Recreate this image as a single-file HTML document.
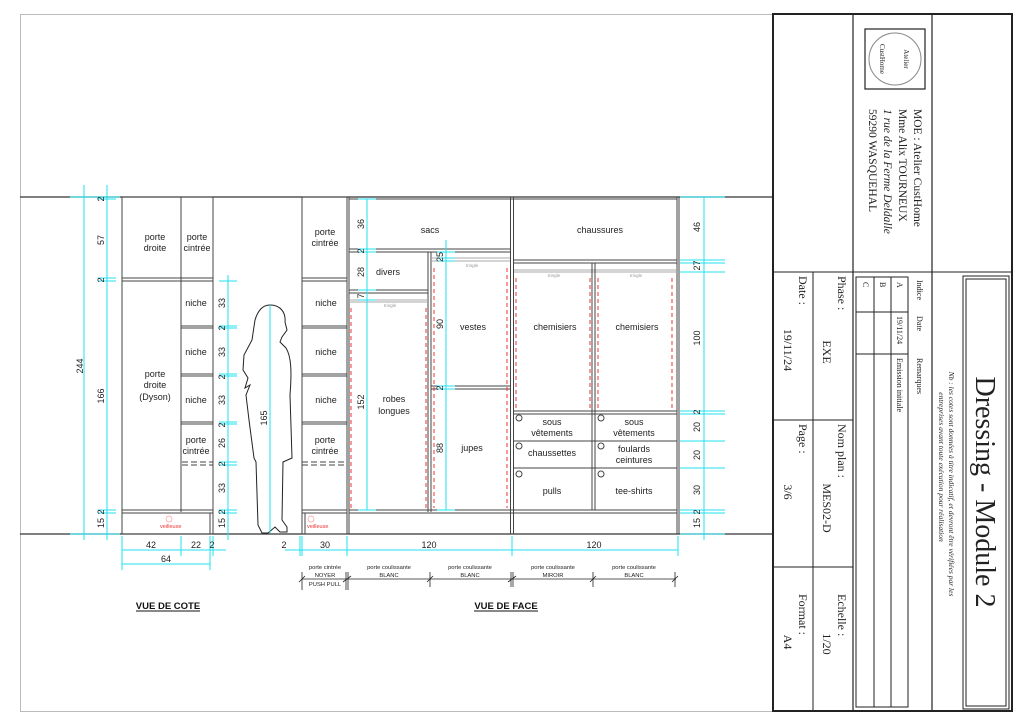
<!DOCTYPE html>
<html><head><meta charset="utf-8"><style>
html,body{margin:0;padding:0;background:#fff}
svg{display:block}
text{font-family:"Liberation Sans",sans-serif}
.s text{font-family:"Liberation Serif",serif}
</style></head><body>
<svg width="1024" height="724" viewBox="0 0 1024 724" xmlns="http://www.w3.org/2000/svg">
<rect x="20.5" y="14.5" width="992" height="697" fill="none" stroke="#bbb" stroke-width="1"/>
<line x1="20" y1="197" x2="773" y2="197" stroke="#333" stroke-width="1.2"/>
<line x1="20" y1="534" x2="773" y2="534" stroke="#333" stroke-width="1.2"/>

<g stroke="#444" stroke-width="1" fill="none">
<rect x="122" y="197" width="91" height="337"/>
<line x1="181" y1="197" x2="181" y2="512"/>
<line x1="122" y1="278" x2="213" y2="278"/><line x1="122" y1="281" x2="213" y2="281"/>
<line x1="181" y1="326" x2="213" y2="326"/><line x1="181" y1="328" x2="213" y2="328"/>
<line x1="181" y1="374" x2="213" y2="374"/><line x1="181" y1="376" x2="213" y2="376"/>
<line x1="181" y1="422" x2="213" y2="422"/><line x1="181" y1="424" x2="213" y2="424"/>
<line x1="182" y1="462" x2="213" y2="462" stroke-dasharray="6,3"/><line x1="182" y1="465" x2="213" y2="465" stroke-dasharray="6,3"/>
<line x1="122" y1="510" x2="213" y2="510"/><line x1="122" y1="513" x2="213" y2="513"/>
<line x1="210" y1="513" x2="210" y2="534"/>

<rect x="302" y="197" width="45" height="337"/>
<line x1="302" y1="278" x2="347" y2="278"/><line x1="302" y1="281" x2="347" y2="281"/>
<line x1="302" y1="326" x2="347" y2="326"/><line x1="302" y1="328" x2="347" y2="328"/>
<line x1="302" y1="374" x2="347" y2="374"/><line x1="302" y1="376" x2="347" y2="376"/>
<line x1="302" y1="422" x2="347" y2="422"/><line x1="302" y1="424" x2="347" y2="424"/>
<line x1="302" y1="462" x2="346" y2="462" stroke-dasharray="6,3"/><line x1="302" y1="465" x2="346" y2="465" stroke-dasharray="6,3"/>
<line x1="302" y1="510" x2="347" y2="510"/><line x1="302" y1="513" x2="347" y2="513"/>
<line x1="305" y1="513" x2="305" y2="534"/>
<line x1="349" y1="197" x2="349" y2="534"/>
<line x1="510.5" y1="197" x2="510.5" y2="534"/><line x1="513.5" y1="197" x2="513.5" y2="534"/>
<line x1="349" y1="199" x2="677" y2="199"/>
<line x1="349" y1="249" x2="510" y2="249"/><line x1="349" y1="252" x2="510" y2="252"/>
<line x1="428" y1="252" x2="428" y2="512"/><line x1="431" y1="252" x2="431" y2="512"/>
<line x1="349" y1="290" x2="428" y2="290"/><line x1="349" y1="293" x2="428" y2="293"/>
<line x1="349" y1="300" x2="428" y2="300" stroke="#aaa"/><line x1="349" y1="302" x2="428" y2="302" stroke="#aaa"/>
<line x1="431" y1="258" x2="510" y2="258" stroke="#aaa"/><line x1="431" y1="261" x2="510" y2="261" stroke="#aaa"/>
<line x1="431" y1="386" x2="510" y2="386"/><line x1="431" y1="389" x2="510" y2="389"/>
<line x1="349" y1="510" x2="677" y2="510"/><line x1="349" y1="513" x2="677" y2="513"/>
<line x1="677" y1="197" x2="677" y2="534"/><line x1="679" y1="197" x2="679" y2="534"/>
<line x1="514" y1="260" x2="677" y2="260"/><line x1="514" y1="263" x2="677" y2="263"/>
<line x1="514" y1="270" x2="677" y2="270" stroke="#aaa"/><line x1="514" y1="272" x2="677" y2="272" stroke="#aaa"/>
<line x1="592" y1="263" x2="592" y2="510"/><line x1="595" y1="263" x2="595" y2="510"/>
<line x1="514" y1="411" x2="677" y2="411"/><line x1="514" y1="414" x2="677" y2="414"/>
<line x1="514" y1="441" x2="677" y2="441"/>
<line x1="514" y1="468" x2="677" y2="468"/>
<circle cx="519" cy="418" r="3"/><circle cx="601" cy="418" r="3"/>
<circle cx="519" cy="446" r="3"/><circle cx="601" cy="446" r="3"/>
<circle cx="519" cy="474" r="3"/><circle cx="601" cy="474" r="3"/>
</g>
<g stroke="#e33" stroke-width="1" stroke-dasharray="4,3">
<line x1="351" y1="308" x2="351" y2="508"/><line x1="426" y1="308" x2="426" y2="508"/>
<line x1="434" y1="268" x2="434" y2="508"/><line x1="507" y1="268" x2="507" y2="508"/>
<line x1="516" y1="278" x2="516" y2="409"/><line x1="590" y1="278" x2="590" y2="409"/>
<line x1="598" y1="278" x2="598" y2="409"/><line x1="672" y1="278" x2="672" y2="409"/>
</g>
<g fill="#999" font-size="4.5" text-anchor="middle">
<text x="390" y="307">tringle</text><text x="472" y="267">tringle</text>
<text x="554" y="277">tringle</text><text x="636" y="277">tringle</text>
</g>
<g fill="#e33" font-size="5.5"><text x="160" y="528">veilleuse</text><text x="307" y="528">veilleuse</text></g>
<g stroke="#f99" fill="none" stroke-width="0.7"><circle cx="169" cy="519" r="3"/><circle cx="311" cy="519" r="3"/></g>

<path d="M270,305 C280,305 286,312 285,322 L287,330 L282,337 L280,342 L286,348 C291,356 292,370 290,395 L292,458 L283,462 L282,520 L287,527 L287,532 L280,532 L275,527 L268,533 L262,533 L258,525 L256,462 L254,458 L249,420 L246,395 L250,385 L245,388 L248,378 L243,370 L244,355 L252,340 L255,320 C258,310 263,305 270,305 Z" fill="none" stroke="#222" stroke-width="1"/>

<g font-size="9" fill="#222" text-anchor="middle">
<text x="155" y="240">porte</text><text x="155" y="251">droite</text>
<text x="197" y="240">porte</text><text x="197" y="251">cintrée</text>
<text x="155" y="377">porte</text><text x="155" y="388">droite</text><text x="155" y="400">(Dyson)</text>
<text x="196" y="306">niche</text><text x="196" y="355">niche</text><text x="196" y="403">niche</text>
<text x="196" y="443">porte</text><text x="196" y="454">cintrée</text>
<text x="325" y="235">porte</text><text x="325" y="246">cintrée</text>
<text x="326" y="306">niche</text><text x="326" y="355">niche</text><text x="326" y="403">niche</text>
<text x="325" y="443">porte</text><text x="325" y="454">cintrée</text>
<text x="430" y="233">sacs</text>
<text x="388" y="275">divers</text>
<text x="394" y="402">robes</text><text x="394" y="414">longues</text>
<text x="473" y="330">vestes</text>
<text x="472" y="451">jupes</text>
<text x="600" y="233">chaussures</text>
<text x="555" y="330">chemisiers</text><text x="637" y="330">chemisiers</text>
<text x="552" y="425">sous</text><text x="552" y="436">vêtements</text>
<text x="634" y="425">sous</text><text x="634" y="436">vêtements</text>
<text x="552" y="456">chaussettes</text>
<text x="634" y="452">foulards</text><text x="634" y="463">ceintures</text>
<text x="552" y="494">pulls</text><text x="634" y="494">tee-shirts</text>
</g>

<g stroke="#1fe0f0" stroke-width="1" fill="none">
<line x1="84" y1="185" x2="84" y2="540"/><line x1="70" y1="197" x2="120" y2="197"/><line x1="70" y1="534" x2="120" y2="534"/>
<line x1="107" y1="185" x2="107" y2="540"/>
<line x1="98" y1="199" x2="116" y2="199"/><line x1="98" y1="278" x2="116" y2="278"/><line x1="98" y1="281" x2="116" y2="281"/>
<line x1="98" y1="510" x2="116" y2="510"/><line x1="98" y1="513" x2="116" y2="513"/>
<line x1="228" y1="275" x2="228" y2="540"/>
<line x1="219" y1="281" x2="237" y2="281"/><line x1="219" y1="326" x2="237" y2="326"/><line x1="219" y1="328" x2="237" y2="328"/>
<line x1="219" y1="374" x2="237" y2="374"/><line x1="219" y1="376" x2="237" y2="376"/><line x1="219" y1="422" x2="237" y2="422"/>
<line x1="219" y1="424" x2="237" y2="424"/><line x1="219" y1="462" x2="237" y2="462"/><line x1="219" y1="465" x2="237" y2="465"/>
<line x1="219" y1="510" x2="237" y2="510"/><line x1="219" y1="513" x2="237" y2="513"/>
<line x1="270" y1="305" x2="270" y2="533"/>
<line x1="367" y1="199" x2="367" y2="510"/>
<line x1="358" y1="199" x2="376" y2="199"/><line x1="358" y1="249" x2="376" y2="249"/><line x1="358" y1="252" x2="376" y2="252"/>
<line x1="358" y1="290" x2="376" y2="290"/><line x1="358" y1="300" x2="376" y2="300"/><line x1="358" y1="510" x2="376" y2="510"/>
<line x1="446" y1="240" x2="446" y2="510"/>
<line x1="437" y1="252" x2="455" y2="252"/><line x1="437" y1="258" x2="455" y2="258"/><line x1="437" y1="261" x2="455" y2="261"/>
<line x1="437" y1="386" x2="455" y2="386"/><line x1="437" y1="389" x2="455" y2="389"/><line x1="437" y1="510" x2="455" y2="510"/>
<line x1="704" y1="197" x2="704" y2="540"/>
<g><line x1="680" y1="197" x2="725" y2="197"/><line x1="680" y1="260" x2="725" y2="260"/><line x1="680" y1="263" x2="725" y2="263"/>
<line x1="680" y1="272" x2="725" y2="272"/><line x1="680" y1="411" x2="725" y2="411"/><line x1="680" y1="414" x2="725" y2="414"/>
<line x1="680" y1="441" x2="725" y2="441"/><line x1="680" y1="468" x2="725" y2="468"/><line x1="680" y1="510" x2="725" y2="510"/>
<line x1="680" y1="513" x2="725" y2="513"/><line x1="680" y1="534" x2="725" y2="534"/></g>
<line x1="122" y1="550" x2="226" y2="550"/><line x1="122" y1="564" x2="210" y2="564"/>
<line x1="122" y1="536" x2="122" y2="570"/><line x1="181" y1="536" x2="181" y2="556"/><line x1="210" y1="536" x2="210" y2="570"/><line x1="213" y1="536" x2="213" y2="556"/>
<line x1="285" y1="550" x2="678" y2="550"/>
<line x1="300" y1="536" x2="300" y2="556"/><line x1="302" y1="536" x2="302" y2="556"/><line x1="347" y1="536" x2="347" y2="556"/>
<line x1="512" y1="536" x2="512" y2="556"/><line x1="678" y1="536" x2="678" y2="556"/>
</g>
<g font-size="9" fill="#222" text-anchor="middle">
<g transform="rotate(-90)">
<text x="-366" y="83">244</text>
<text x="-199" y="104">2</text><text x="-240" y="104">57</text><text x="-280" y="104">2</text><text x="-396" y="104">166</text><text x="-512" y="104">2</text><text x="-523" y="104">15</text>
<text x="-303" y="225">33</text><text x="-328" y="225">2</text><text x="-352" y="225">33</text><text x="-377" y="225">2</text><text x="-400" y="225">33</text><text x="-425" y="225">2</text><text x="-443" y="225">26</text><text x="-464" y="225">2</text><text x="-488" y="225">33</text><text x="-512" y="225">2</text><text x="-523" y="225">15</text>
<text x="-418" y="267">165</text>
<text x="-224" y="364">36</text><text x="-251" y="364">2</text><text x="-272" y="364">28</text><text x="-296" y="364">7</text><text x="-402" y="364">152</text>
<text x="-257" y="443">25</text><text x="-324" y="443">90</text><text x="-388" y="443">2</text><text x="-448" y="443">88</text>
<text x="-227" y="700">46</text><text x="-263" y="700">7</text><text x="-268" y="700">2</text><text x="-338" y="700">100</text><text x="-412" y="700">2</text><text x="-427" y="700">20</text><text x="-455" y="700">20</text><text x="-490" y="700">30</text><text x="-512" y="700">2</text><text x="-523" y="700">15</text>
</g>
<text x="151" y="548">42</text><text x="196" y="548">22</text><text x="212" y="548">2</text><text x="166" y="562">64</text>
<text x="284" y="548">2</text><text x="325" y="548">30</text><text x="429" y="548">120</text><text x="594" y="548">120</text>
</g>
<g font-size="5.8" fill="#222" text-anchor="middle">
<text x="325" y="569">porte cintrée</text><text x="325" y="577">NOYER</text><text x="325" y="586">PUSH PULL</text>
<text x="389" y="569">porte coulissante</text><text x="389" y="577">BLANC</text>
<text x="470" y="569">porte coulissante</text><text x="470" y="577">BLANC</text>
<text x="553" y="569">porte coulissante</text><text x="553" y="577">MIROIR</text>
<text x="634" y="569">porte coulissante</text><text x="634" y="577">BLANC</text>
</g>
<g stroke="#222" stroke-width="0.8">
<line x1="302" y1="579" x2="676" y2="579"/>
<line x1="302" y1="572" x2="302" y2="590"/><line x1="346" y1="572" x2="346" y2="590"/><line x1="348" y1="572" x2="348" y2="590"/>
<line x1="430" y1="572" x2="430" y2="587"/><line x1="511" y1="572" x2="511" y2="587"/><line x1="513" y1="572" x2="513" y2="587"/>
<line x1="593" y1="572" x2="593" y2="587"/><line x1="675" y1="572" x2="675" y2="587"/>
<line x1="299" y1="582" x2="305" y2="576"/><line x1="343" y1="582" x2="351" y2="576"/><line x1="427" y1="582" x2="433" y2="576"/>
<line x1="508" y1="582" x2="516" y2="576"/><line x1="590" y1="582" x2="596" y2="576"/><line x1="672" y1="582" x2="678" y2="576"/>
</g>
<g font-size="9.5" font-weight="bold" fill="#111" text-anchor="middle">
<text x="168" y="609">VUE DE COTE</text><text x="506" y="609">VUE DE FACE</text>
</g>
<line x1="136" y1="611" x2="200" y2="611" stroke="#111"/><line x1="474" y1="611" x2="538" y2="611" stroke="#111"/>

<g stroke="#222" fill="none">
<rect x="773" y="14" width="239" height="697" stroke-width="2"/>
<line x1="853" y1="14" x2="853" y2="711" stroke-width="1.2"/>
<line x1="932" y1="14" x2="932" y2="711" stroke-width="1.2"/>
<line x1="773" y1="272" x2="1012" y2="272"/>
<line x1="813" y1="272" x2="813" y2="711"/>
<line x1="773" y1="420" x2="853" y2="420"/><line x1="773" y1="567" x2="853" y2="567"/>
<rect x="856" y="277" width="52" height="430"/>
<line x1="874" y1="277" x2="874" y2="707"/><line x1="891" y1="277" x2="891" y2="707"/>
<line x1="856" y1="312" x2="908" y2="312"/><line x1="856" y1="354" x2="908" y2="354"/>
<rect x="963" y="276" width="46" height="433"/><rect x="966" y="279" width="40" height="427"/>
<rect x="865" y="29" width="60" height="60" stroke-width="1.2"/>
<circle cx="895" cy="59" r="26" stroke="#888"/>
</g>
<g class="s" fill="#222">
<g font-size="7" text-anchor="middle"><text transform="translate(904,59) rotate(90)">Atelier</text><text transform="translate(880,59) rotate(90)">CustHome</text></g>
<g font-size="11.5">
<text transform="translate(914,109) rotate(90)">MOE : Atelier CustHome</text>
<text transform="translate(899,109) rotate(90)">Mme Alix TOURNEUX</text>
<text transform="translate(884,109) rotate(90)" font-style="italic">1 rue de la Ferme Deldalle</text>
<text transform="translate(869,109) rotate(90)">59290 WASQUEHAL</text>
</g>
<g font-size="8">
<text transform="translate(917,280) rotate(90)">Indice</text><text transform="translate(917,316) rotate(90)">Date</text><text transform="translate(917,358) rotate(90)">Remarques</text>
<text transform="translate(897,282) rotate(90)">A</text><text transform="translate(897,316) rotate(90)">19/11/24</text><text transform="translate(897,358) rotate(90)">Emission initiale</text>
<text transform="translate(880,282) rotate(90)">B</text><text transform="translate(863,282) rotate(90)">C</text>
</g>
<g font-size="7.5" text-anchor="middle" font-style="italic">
<text transform="translate(949,484) rotate(90)">Nb : les cotes sont données à titre indicatif, et devront être vérifiées par les</text>
<text transform="translate(939,467) rotate(90)">entreprises avant toute exécution pour réalisation</text>
</g>
<text transform="translate(976,492) rotate(90)" font-size="28" text-anchor="middle">Dressing - Module 2</text>
<g font-size="12">
<text transform="translate(838,276) rotate(90)">Phase :</text>
<text transform="translate(838,424) rotate(90)">Nom plan :</text>
<text transform="translate(838,594) rotate(90)">Echelle :</text>
<text transform="translate(799,276) rotate(90)">Date :</text>
<text transform="translate(799,424) rotate(90)">Page :</text>
<text transform="translate(799,594) rotate(90)">Format :</text>
</g>
<g font-size="12" text-anchor="middle">
<text transform="translate(823,352) rotate(90)">EXE</text>
<text transform="translate(823,508) rotate(90)">MES02-D</text>
<text transform="translate(823,644) rotate(90)">1/20</text>
<text transform="translate(784,350) rotate(90)">19/11/24</text>
<text transform="translate(784,492) rotate(90)">3/6</text>
<text transform="translate(784,642) rotate(90)">A4</text>
</g>
</g>
</svg>
</body></html>
